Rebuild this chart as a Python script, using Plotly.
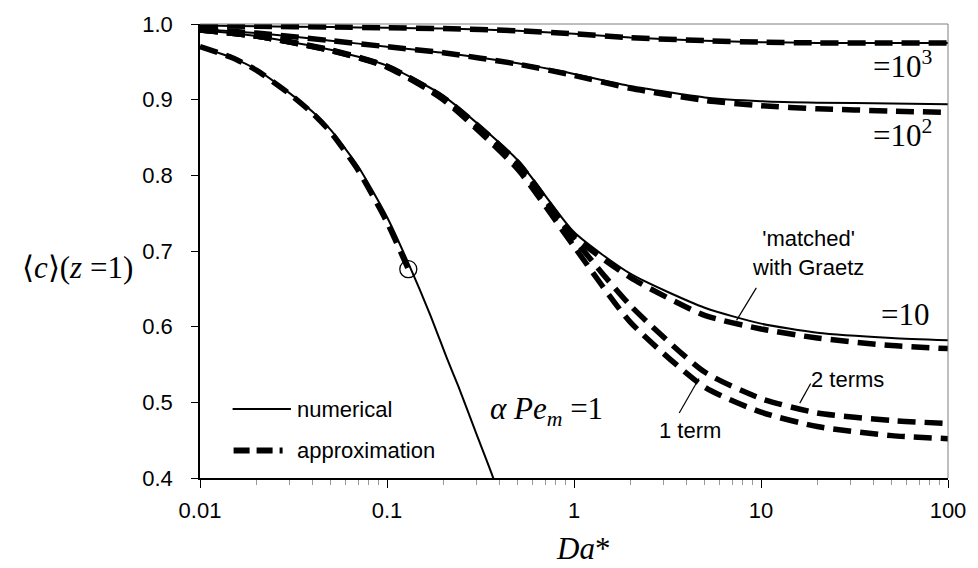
import plotly.graph_objects as go

# ---------------- data ----------------
x_full = [0.01, 0.02, 0.05, 0.1, 0.2, 0.5, 1, 2, 5, 10, 20, 50, 100]

# alpha*Pe_m = 1000
num_1000 = [0.998, 0.997, 0.996, 0.995, 0.994, 0.991, 0.987, 0.982, 0.978, 0.976, 0.975, 0.975, 0.975]
app_1000 = [0.998, 0.997, 0.996, 0.995, 0.994, 0.991, 0.987, 0.982, 0.978, 0.976, 0.975, 0.975, 0.975]

# alpha*Pe_m = 100
num_100 = [0.993, 0.988, 0.978, 0.970, 0.962, 0.948, 0.934, 0.918, 0.903, 0.898, 0.896, 0.895, 0.894]
app_100 = [0.993, 0.988, 0.978, 0.970, 0.962, 0.947, 0.932, 0.915, 0.899, 0.892, 0.888, 0.885, 0.883]

# alpha*Pe_m = 10
num_10 = [0.992, 0.984, 0.966, 0.945, 0.905, 0.820, 0.725, 0.670, 0.625, 0.604, 0.592, 0.585, 0.582]
matched_10 = [0.992, 0.984, 0.966, 0.944, 0.903, 0.817, 0.720, 0.665, 0.615, 0.597, 0.585, 0.575, 0.571]
one_term_10 = [0.992, 0.984, 0.965, 0.943, 0.900, 0.808, 0.706, 0.606, 0.520, 0.487, 0.468, 0.456, 0.452]
two_terms_10 = [0.992, 0.984, 0.965, 0.944, 0.902, 0.813, 0.716, 0.628, 0.540, 0.505, 0.486, 0.476, 0.472]

# alpha*Pe_m = 1
x_num_1 = [0.01, 0.015, 0.02, 0.03, 0.04, 0.05, 0.07, 0.1, 0.13, 0.17, 0.21, 0.24, 0.3, 0.37, 0.4]
num_1 = [0.970, 0.955, 0.940, 0.909, 0.884, 0.860, 0.812, 0.745, 0.684, 0.616, 0.557, 0.522, 0.459, 0.400, 0.371]
x_app_1 = [0.01, 0.015, 0.02, 0.03, 0.04, 0.05, 0.07, 0.1, 0.13]
app_1 = [0.970, 0.955, 0.939, 0.908, 0.882, 0.857, 0.807, 0.738, 0.676]

circle_x = [0.13]
circle_y = [0.676]

x_ticks = [0.01, 0.1, 1, 10, 100]
x_tick_text = ["0.01", "0.1", "1", "10", "100"]
y_ticks = [0.4, 0.5, 0.6, 0.7, 0.8, 0.9, 1.0]
y_tick_text = ["0.4", "0.5", "0.6", "0.7", "0.8", "0.9", "1.0"]

# ---------------- figure ----------------
W, H = 978, 568
L, R, T, B = 200, 21, 17, 90
PW, PH = W - L - R, H - T - B


def px(xp):
    return (xp - L) / PW


def py(yp):
    return (H - B - yp) / PH


SOLID = dict(color="black", width=2)
DASH = dict(color="black", width=5.5, dash="18px,9px")

fig = go.Figure()

dashed_series = [
    (x_full, app_1000), (x_full, app_100), (x_full, matched_10),
    (x_full, one_term_10), (x_full, two_terms_10), (x_app_1, app_1),
]
for xs, ys in dashed_series:
    fig.add_trace(go.Scatter(x=xs, y=ys, mode="lines", line=dict(DASH, shape="spline", smoothing=0.6),
                             showlegend=False, hoverinfo="skip"))

solid_series = [(x_full, num_1000), (x_full, num_100), (x_full, num_10), (x_num_1, num_1)]
for xs, ys in solid_series:
    fig.add_trace(go.Scatter(x=xs, y=ys, mode="lines", line=dict(SOLID, shape="spline", smoothing=0.6),
                             showlegend=False, hoverinfo="skip"))

fig.add_trace(go.Scatter(x=circle_x, y=circle_y, mode="markers",
                         marker=dict(symbol="circle-open", size=17, color="black", line=dict(width=1.3)),
                         showlegend=False, hoverinfo="skip"))

SANS = "Liberation Sans, Arial, sans-serif"
SERIF = "Liberation Serif, Times New Roman, serif"

annotations = [
    dict(x=px(943), y=py(58), text="=10<sup>3</sup>", xanchor="right", yanchor="middle",
         font=dict(family=SERIF, size=31)),
    dict(x=px(943), y=py(128), text="=10<sup>2</sup>", xanchor="right", yanchor="middle",
         font=dict(family=SERIF, size=31)),
    dict(x=px(940), y=py(312), text="=10", xanchor="right", yanchor="middle",
         font=dict(family=SERIF, size=31)),
    dict(x=px(491), y=py(410), text="<i>α Pe</i><sub><i>m</i></sub> =1", xanchor="left", yanchor="middle",
         font=dict(family=SERIF, size=31)),
    dict(x=px(815), y=py(250), text="'matched'<br>with Graetz", xanchor="center", yanchor="middle",
         font=dict(family=SANS, size=22)),
    dict(x=px(816), y=py(378), text="2 terms", xanchor="left", yanchor="middle",
         font=dict(family=SANS, size=22)),
    dict(x=px(662), y=py(430), text="1 term", xanchor="left", yanchor="middle",
         font=dict(family=SANS, size=22)),
    dict(x=px(296), y=py(408), text="numerical", xanchor="left", yanchor="middle",
         font=dict(family=SANS, size=22)),
    dict(x=px(296), y=py(450), text="approximation", xanchor="left", yanchor="middle",
         font=dict(family=SANS, size=22)),
    dict(x=px(588), y=py(550), text="<i>Da</i>*", xanchor="center", yanchor="middle",
         font=dict(family=SERIF, size=31)),
    dict(x=px(76), y=py(264), text="\u27e8<i>c</i>\u27e9(<i>z</i> =1)", xanchor="center", yanchor="middle",
         font=dict(family=SERIF, size=31)),
]
for a in annotations:
    a.update(xref="paper", yref="paper", showarrow=False)
    a["font"]["color"] = "black"

shapes = [
    # top / right frame
    dict(type="line", x0=0, x1=1, y0=1, y1=1, line=dict(color="#7f7f7f", width=1)),
    dict(type="line", x0=1, x1=1, y0=0, y1=1, line=dict(color="#7f7f7f", width=1)),
    # pointer lines
    dict(type="line", x0=px(763), y0=py(285), x1=px(743), y1=py(318), line=dict(color="black", width=1.2)),
    dict(type="line", x0=px(818), y0=py(382), x1=px(807), y1=py(402), line=dict(color="black", width=1.2)),
    dict(type="line", x0=px(685), y0=py(412), x1=px(705), y1=py(377), line=dict(color="black", width=1.2)),
    # legend samples
    dict(type="line", x0=px(233), y0=py(408), x1=px(292), y1=py(408), line=dict(color="black", width=2)),
    dict(type="line", x0=px(234), y0=py(450), x1=px(290), y1=py(450),
         line=dict(color="black", width=6, dash="16px,7px,16px,7px,3px")),
]
for s in shapes:
    s.update(xref="paper", yref="paper", layer="above")

fig.update_layout(
    width=W, height=H,
    margin=dict(l=L, r=R, t=T, b=B, pad=0),
    paper_bgcolor="white", plot_bgcolor="white",
    font=dict(family=SANS, size=22, color="black"),
    annotations=annotations, shapes=shapes,
    showlegend=False,
)
fig.update_xaxes(
    type="log", range=[-2, 2], tickvals=x_ticks, ticktext=x_tick_text,
    showgrid=False, zeroline=False, showline=True, linecolor="black", linewidth=1.5,
    ticks="outside", ticklen=8, tickwidth=1.2, tickcolor="black", ticklabelstandoff=4,
    minor=dict(ticks="outside", ticklen=5, tickcolor="#999999", tickwidth=1, dtick="D1", showgrid=False),
    tickfont=dict(family=SANS, size=22, color="black"),
)
fig.update_yaxes(
    range=[0.4, 1.0], tickvals=y_ticks, ticktext=y_tick_text,
    showgrid=False, zeroline=False, showline=True, linecolor="black", linewidth=1.5,
    ticks="outside", ticklen=7, tickwidth=1.2, tickcolor="black", ticklabelstandoff=14,
    tickfont=dict(family=SANS, size=22, color="black"),
)

fig.write_html("out.html")
